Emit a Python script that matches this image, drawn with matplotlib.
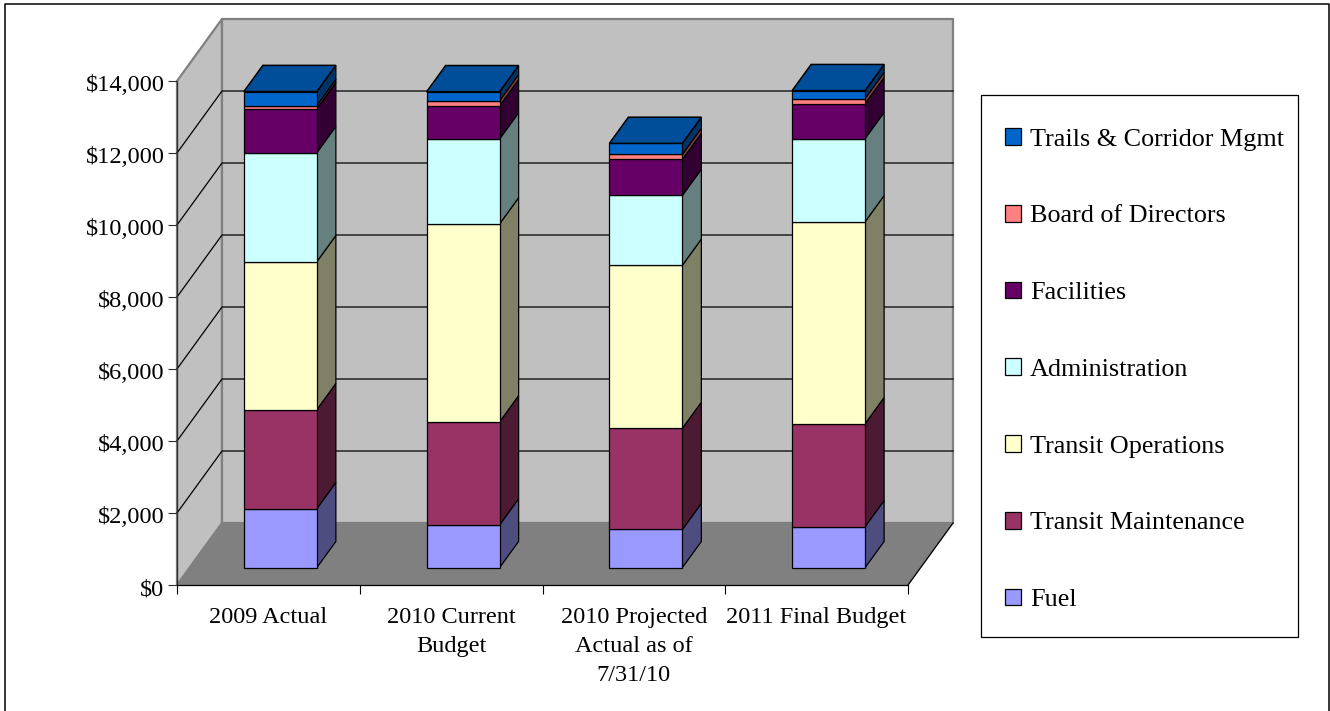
#!/usr/bin/python
import matplotlib as mpl
mpl.use("Agg")
import matplotlib.pyplot as plt
from matplotlib.lines import Line2D
from matplotlib.patches import Patch, Polygon, Rectangle
from matplotlib.colors import to_rgb
from matplotlib.transforms import ScaledTranslation
import numpy as np

plt.rcParams['font.family'] = ['Liberation Serif', 'DejaVu Serif']
plt.rcParams['font.size'] = 17.6

categories = ["2009 Actual", "2010 Current\nBudget", "2010 Projected\nActual as of\n7/31/10", "2011 Final Budget"]

fuel = [1640, 1190, 1060, 1140]
maintenance = [2750, 2860, 2810, 2860]
operations = [4110, 5500, 4530, 5610]
administration = [3030, 2360, 1940, 2310]
facilities = [1220, 920, 1000, 970]
board = [85, 140, 140, 140]
trails = [390, 250, 305, 220]

series = [fuel, maintenance, operations, administration, facilities, board, trails]
names = ["Fuel", "Transit Maintenance", "Transit Operations", "Administration", "Facilities", "Board of Directors", "Trails & Corridor Mgmt"]
colors = ['#9999ff', '#993366', '#ffffcc', '#ccffff', '#660066', '#ff8080', '#0066cc']
yticks = np.arange(0, 14001, 2000)

# wall depth in data units (45px, 62px), bars sit in the middle of it
depth_x = 45 / 182.75
depth_y = 62 / 36 * 1000
bar_depth = 19 / 45
bar_start = (1 - bar_depth) / 2
barWidth = 73 / 182.75


def shade(c, f):
    return tuple(v * f for v in to_rgb(c))


def px(x0, y0):
    return x0 / 1330, 1 - y0 / 711


fig = plt.figure(figsize=(13.3, 7.11), dpi=100, facecolor='w')
ax = fig.add_axes([177 / 1330, 1 - 585 / 711, 731 / 1330, 504 / 711])
ax.set_xlim(0, 4)
ax.set_ylim(0, 14000)
ax.patch.set_visible(False)

# outer frame, no line along the bottom
fx, fy = zip(px(5.5, 711), px(5.5, 3.5), px(1329, 3.5), px(1329, 711))
fig.add_artist(Line2D(fx, fy, transform=fig.transFigure, color='k', linewidth=1.1))

top = 14000
left_wall = [(0, 0), (depth_x, depth_y), (depth_x, top + depth_y), (0, top)]
back_wall = [(depth_x, depth_y), (4 + depth_x, depth_y), (4 + depth_x, top + depth_y), (depth_x, top + depth_y)]
floor = [(0, 0), (4, 0), (4 + depth_x, depth_y), (depth_x, depth_y)]
ax.add_patch(Polygon(left_wall, facecolor='#c0c0c0', edgecolor='#808080', linewidth=1.6, clip_on=False, zorder=1))
ax.add_patch(Polygon(back_wall, facecolor='#c0c0c0', edgecolor='#808080', linewidth=1.6, clip_on=False, zorder=1))
ax.add_patch(Polygon(floor, facecolor='#808080', edgecolor='#808080', linewidth=0.8, clip_on=False, zorder=1.1))
ax.plot([4, 4 + depth_x], [0, depth_y], color='k', linewidth=0.9, clip_on=False, zorder=1.2)

for t in yticks[1:-1]:
    ax.plot([0, depth_x, 4 + depth_x], [t, t + depth_y, t + depth_y], color='k', linewidth=0.9, clip_on=False, zorder=1.5)

x = np.arange(4) + 0.5 + (depth_x - depth_x * bar_depth) / 2 - 1 / 182.75
base_y = depth_y * bar_start - 15
bottoms = np.full(4, base_y)
for vals, col, name in zip(series, colors, names):
    vals = np.array(vals)
    ax.bar(x, vals, width=barWidth, bottom=bottoms, color=col, edgecolor='k', linewidth=0.9, clip_on=False, zorder=3, label=name)
    for i in range(4):
        r = x[i] + barWidth / 2
        ax.add_patch(Polygon([(r, bottoms[i]), (r + depth_x * bar_depth, bottoms[i] + depth_y * bar_depth),
                              (r + depth_x * bar_depth, bottoms[i] + vals[i] + depth_y * bar_depth), (r, bottoms[i] + vals[i])],
                             facecolor=shade(col, 0.5), edgecolor='k', linewidth=0.9, clip_on=False, zorder=2.5))
    bottoms = bottoms + vals

# lid of the stack
for i in range(4):
    l = x[i] - barWidth / 2
    r = x[i] + barWidth / 2
    ax.add_patch(Polygon([(l, bottoms[i]), (r, bottoms[i]), (r + depth_x * bar_depth, bottoms[i] + depth_y * bar_depth),
                          (l + depth_x * bar_depth, bottoms[i] + depth_y * bar_depth)],
                         facecolor=shade(colors[-1], 0.75), edgecolor='k', linewidth=1.1, clip_on=False, zorder=3.5))

for s in ['top', 'right']:
    ax.spines[s].set_visible(False)
for s in ['left', 'bottom']:
    ax.spines[s].set_linewidth(0.9)
    ax.spines[s].set_zorder(2)
ax.spines['left'].set_color('#303030')

ax.set_yticks(yticks)
ax.set_yticklabels(["$" + format(t, ",d") for t in yticks])
ax.tick_params(axis='y', length=6.5, width=0.8, pad=2.5, color='#303030')
# y labels sit a little under their ticks
for lab in ax.get_yticklabels():
    lab.set_transform(lab.get_transform() + ScaledTranslation(0, -1.5 / 72, fig.dpi_scale_trans))
ax.set_xticks(np.arange(5))
ax.set_xticklabels([])
ax.tick_params(axis='x', which='major', length=6.5, width=0.8)
ax.set_xticks(np.arange(4) + 0.5, minor=True)
ax.set_xticklabels(categories, minor=True, ha='center', linespacing=1.49, fontsize=17.5)
ax.tick_params(axis='x', which='minor', length=0, pad=16)

# legend box and entries
fig.add_artist(Rectangle(px(980.5, 637), 317.5 / 1330, 542 / 711, transform=fig.transFigure,
                         facecolor='w', edgecolor='k', linewidth=0.9, zorder=-1))
handles = [Patch(facecolor=c, edgecolor='k', linewidth=0.9, label=n) for c, n in zip(colors, names)][::-1]
leg = ax.legend(handles=handles, loc='upper left', bbox_to_anchor=px(1005, 128), bbox_transform=fig.transFigure,
                frameon=False, borderaxespad=0, fontsize=18.8, handlelength=0.61, handleheight=0.61,
                handletextpad=0.35, labelspacing=2.075, borderpad=0)

plt.savefig("out.png", dpi=100)
